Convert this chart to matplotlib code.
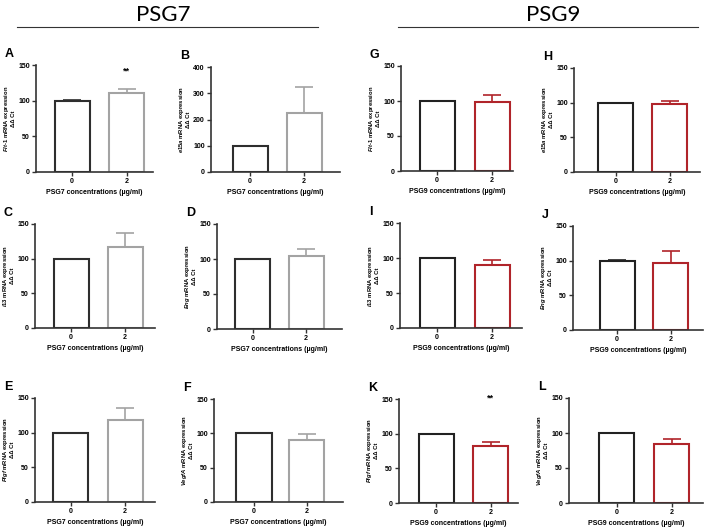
import numpy as np
import matplotlib
matplotlib.use("Agg")
import matplotlib.pyplot as plt

plt.rcParams['font.family'] = ['Liberation Sans', 'DejaVu Sans']
plt.rcParams['mathtext.fontset'] = 'custom'
plt.rcParams['mathtext.it'] = 'Liberation Sans:italic:bold'
plt.rcParams['mathtext.rm'] = 'Liberation Sans:bold'

W, H = 709, 527

# data
concentrations = ["0", "2"]
letters = ["A", "B", "C", "D", "E", "F", "G", "H", "I", "J", "K", "L"]
genes = ["Flt-1", "e15a", "i13", "Eng", "Plgf", "VegfA",
         "Flt-1", "e15a", "i13", "Eng", "Plgf", "VegfA"]
means = [[100, 111], [100, 223], [100, 117], [100, 104], [100, 118.5], [100, 90],
         [100, 99], [100, 97.5], [100, 90], [100, 97], [100, 82], [100, 85]]
errs = [[0.5, 5], [0, 101], [0, 20], [0, 11], [0, 17], [0, 9.5],
        [0, 10], [0, 5], [0, 6.5], [0.5, 17], [0, 6], [0.5, 6]]
ymax = [150, 400, 150, 150, 150, 150, 150, 150, 150, 150, 150, 150]
yticks_step = [50, 100, 50, 50, 50, 50, 50, 50, 50, 50, 50, 50]
signif = {"A": "**", "K": "**"}
groups = ["PSG7"] * 6 + ["PSG9"] * 6

# layout in pixels: axis left, axis right, top, bottom, centre of bar 0, centre of bar 2
boxes = {
    "A": (36, 153, 65, 172, 72, 126.5),
    "B": (211, 340, 67, 172, 250, 304),
    "C": (35, 155, 224, 328, 71, 125),
    "D": (217, 342, 224, 329, 252.5, 306),
    "E": (35, 155, 398, 502, 70.5, 125),
    "F": (214, 343, 399, 502, 254, 306.5),
    "G": (401, 513, 66, 171, 437, 492),
    "H": (574, 700, 68, 172, 615.5, 669.5),
    "I": (400, 522, 223, 328, 437, 492),
    "J": (573, 703, 226, 330, 617, 670.5),
    "K": (399, 518, 399, 503, 436, 490.5),
    "L": (569, 703, 398, 503, 616.5, 671.5),
}
colors = {"PSG7": ["#2e2e2e", "#a3a3a3"], "PSG9": ["#222222", "#b0242a"]}


def gene_label(g):
    parts = g.split("-")
    s = "-".join(r"$\mathit{%s}$" % p for p in parts)
    return s + " mRNA expression\n\u0394\u0394 Ct"


fig = plt.figure(figsize=(W / 100, H / 100), dpi=100)

for i, let in enumerate(letters):
    l, r, t, b, c0, c1 = boxes[let]
    ax = fig.add_axes([l / W, 1 - b / H, (r - l) / W, (b - t) / H])
    unit = c1 - c0
    x = np.arange(len(concentrations))
    cols = colors[groups[i]]
    for j in x:
        ax.bar(j, means[i][j], width=35 / unit, facecolor="white",
               edgecolor=cols[j], linewidth=1.5, zorder=2)
        if errs[i][j] > 0:
            ax.errorbar(j, means[i][j], yerr=[[0], [errs[i][j]]], color=cols[j],
                        capsize=6.5, elinewidth=1.2, capthick=1.2, zorder=1)
    ax.set_xlim((l - c0) / unit, (r - c0) / unit)
    ax.set_ylim(0, ymax[i])
    ax.set_yticks(np.arange(0, ymax[i] + 1, yticks_step[i]))
    ax.set_xticks(x)
    ax.set_xticklabels(concentrations)
    for sp in ["top", "right"]:
        ax.spines[sp].set_visible(False)
    for sp in ["left", "bottom"]:
        ax.spines[sp].set_color("#333333")
        ax.spines[sp].set_linewidth(1.2)
    ax.tick_params(length=3, width=1, color="#333333", labelsize=5, pad=1.5)
    for tl in ax.get_xticklabels() + ax.get_yticklabels():
        tl.set_fontweight("bold")
    ax.set_xlabel(groups[i] + " concentrations (\u00b5g/ml)", fontsize=5,
                  fontweight="bold", labelpad=3)
    ax.set_ylabel(gene_label(genes[i]), fontsize=4.2, fontweight="bold",
                  linespacing=1.05)
    ax.yaxis.set_label_coords(-20 / (r - l), 0.5)
    fig.text((l - 31) / W, 1 - (t - 11) / H, let, fontsize=9, fontweight="bold",
             va="center", ha="left")
    if let in signif:
        ax.text(1, ymax[i] * (0.94 if let == "A" else 1.01), signif[let],
                ha="center", va="center", fontsize=6.5, fontweight="bold",
                clip_on=False)

# group headers
for name, cx, x0, x1 in [("PSG7", 163, 17, 318), ("PSG9", 553, 398, 698)]:
    fig.text(cx / W, 1 - 15 / H, name, fontsize=16, family=["Lato", "DejaVu Sans"],
             ha="center", va="center")
    fig.add_artist(plt.Line2D([x0 / W, x1 / W], [1 - 27 / H, 1 - 27 / H],
                              color="#333333", linewidth=0.8))

fig.savefig("out.png", dpi=100)
